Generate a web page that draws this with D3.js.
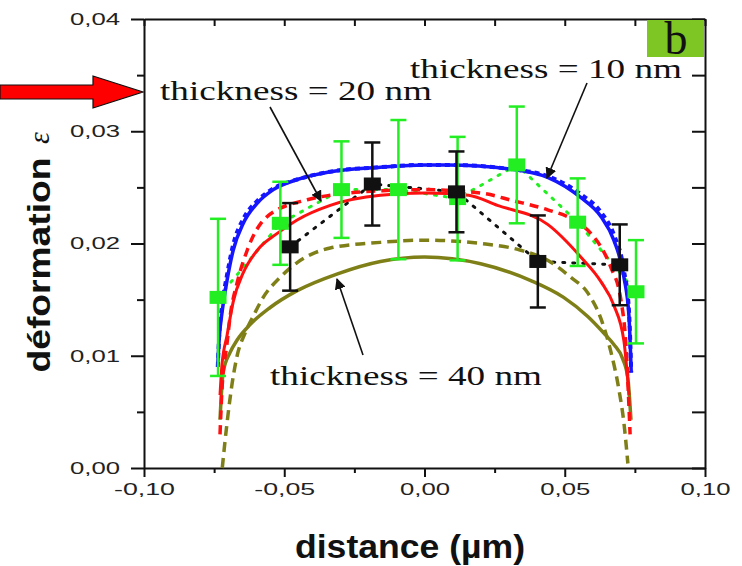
<!DOCTYPE html>
<html lang="fr">
<head>
<meta charset="UTF-8">
<script src="https://d3js.org/d3.v7.min.js"></script>
<title>deformation</title>
<style>
  body { margin: 0; background: #fff; }
  .ticklab { font-family: "Liberation Sans", Arial, sans-serif; font-size: 17px; fill: #222; }
  .note { font-family: "Liberation Serif", "Times New Roman", serif; font-size: 27px; fill: #111; }
</style>
</head>
<body>
<div id="chart"></div>
<script>
// theory curves
var blueX  = [-0.0737, -0.0732, -0.0721, -0.0704, -0.0682, -0.0646, -0.0596, -0.0539, -0.0454, -0.0336, -0.0157, 0, 0.0082, 0.0318, 0.0439, 0.0557, 0.0629, 0.0675, 0.0711, 0.0729, 0.0737];
var blueSolid  = [0.0093, 0.0115, 0.0140, 0.0167, 0.0194, 0.0218, 0.0236, 0.0248, 0.0257, 0.0264, 0.0268, 0.0270, 0.0270, 0.0266, 0.0259, 0.0241, 0.0224, 0.0203, 0.0170, 0.0135, 0.0085];
var blueDashed = [0.0090, 0.0118, 0.0146, 0.0172, 0.0199, 0.0222, 0.0238, 0.0249, 0.0257, 0.0264, 0.0268, 0.0270, 0.0270, 0.0266, 0.0260, 0.0244, 0.0228, 0.0208, 0.0176, 0.0140, 0.0085];

var redSolidX = [-0.0729, -0.0722, -0.0704, -0.0682, -0.0646, -0.0596, -0.0525, -0.0454, -0.0336, -0.0157, 0, 0.0157, 0.026, 0.0439, 0.0557, 0.0629, 0.0675, 0.0711, 0.0729];
var redSolid  = [0.0065, 0.0092, 0.0118, 0.0148, 0.0174, 0.0194, 0.0209, 0.0221, 0.0234, 0.0243, 0.0245, 0.0243, 0.0234, 0.0217, 0.0188, 0.0166, 0.0145, 0.0113, 0.0065];

var redDashX = [-0.0729, -0.0722, -0.0704, -0.0693, -0.0668, -0.0632, -0.0561, -0.0418, -0.0336, -0.015, 0, 0.02, 0.0318, 0.0439, 0.0532, 0.0593, 0.0629, 0.0664, 0.07, 0.0718, 0.0733];
var redDashed = [0.0030, 0.0070, 0.0111, 0.0135, 0.0165, 0.0194, 0.0224, 0.0239, 0.0243, 0.0247, 0.0248, 0.0245, 0.0238, 0.0230, 0.0221, 0.0209, 0.0197, 0.0179, 0.0150, 0.0110, 0.0030];

var oliveSolidX = [-0.0729, -0.0718, -0.0693, -0.0668, -0.0621, -0.055, -0.0454, -0.031, -0.0157, 0, 0.02, 0.0379, 0.0496, 0.0582, 0.064, 0.0675, 0.0707, 0.0725, 0.0736];
var oliveSolid  = [0.0043, 0.0085, 0.0103, 0.0114, 0.0128, 0.0143, 0.0158, 0.0173, 0.0184, 0.0188, 0.0182, 0.0167, 0.0152, 0.0135, 0.0120, 0.0110, 0.0097, 0.0080, 0.0043];

var oliveDashX = [-0.0721, -0.0704, -0.0686, -0.0668, -0.064, -0.0611, -0.0575, -0.0514, -0.0454, -0.0336, -0.0157, 0, 0.02, 0.0343, 0.0439, 0.0521, 0.0582, 0.0629, 0.0664, 0.0693, 0.0711, 0.0725];
var oliveDashed = [0.0000, 0.0040, 0.0075, 0.0100, 0.0120, 0.0135, 0.0152, 0.0170, 0.0183, 0.0196, 0.0201, 0.0203, 0.0200, 0.0194, 0.0185, 0.0170, 0.0156, 0.0133, 0.0104, 0.0070, 0.0040, 0.0004];

// measured points
var greenX   = [-0.0736, -0.0514, -0.0296, -0.0093, 0.0118, 0.0329, 0.0546, 0.0754];
var greenY   = [0.0152, 0.0218, 0.0248, 0.0248, 0.0240, 0.0270, 0.0219, 0.0157];
var greenErr = [0.0070, 0.0037, 0.0043, 0.0062, 0.0055, 0.0052, 0.0039, 0.0046];

var blackX   = [-0.0479, -0.0186, 0.0114, 0.0404, 0.0696];
var blackY   = [0.0197, 0.0253, 0.0246, 0.0184, 0.0181];
var blackErr = [0.0039, 0.0037, 0.0036, 0.0041, 0.0036];

var xTicks = [-0.10, -0.05, 0, 0.05, 0.10];
var xMinor = [-0.075, -0.025, 0.025, 0.075];
var yTicks = [0, 0.01, 0.02, 0.03, 0.04];
var yMinor = [0.005, 0.015, 0.025, 0.035];

var W = 742, H = 566;
var svg = d3.select("#chart").append("svg").attr("width", W).attr("height", H);

var x = d3.scaleLinear().domain([-0.1, 0.1]).range([144, 705]);
var y = d3.scaleLinear().domain([0, 0.04]).range([468, 19]);

function fmt(d) { return d3.format(".2f")(d).replace(".", ",").replace("\u2212", "-"); }

function styleAxis(g) {
  g.select(".domain").attr("stroke", "#111").attr("stroke-width", 2);
  g.selectAll(".tick line").attr("stroke", "#111").attr("stroke-width", 2);
}

// bottom axis
var gb = svg.append("g").attr("transform", "translate(0,468)")
  .call(d3.axisBottom(x).tickValues(xTicks).tickSize(9).tickSizeOuter(0).tickPadding(6).tickFormat(fmt));
styleAxis(gb);
gb.selectAll("text").attr("class", "ticklab").attr("font-size", null).attr("font-family", null)
  .attr("textLength", function(d) { return d < 0 ? 61 : 50; }).attr("lengthAdjust", "spacingAndGlyphs");
var gbm = svg.append("g").attr("transform", "translate(0,468)")
  .call(d3.axisBottom(x).tickValues(xMinor).tickSize(5).tickFormat(""));
styleAxis(gbm); gbm.select(".domain").remove();

// left axis
var gl = svg.append("g").attr("transform", "translate(144,0)")
  .call(d3.axisLeft(y).tickValues(yTicks).tickSize(13).tickSizeOuter(0).tickPadding(11).tickFormat(fmt));
styleAxis(gl);
gl.selectAll("text").attr("class", "ticklab").attr("font-size", null).attr("font-family", null)
  .attr("textLength", 50).attr("lengthAdjust", "spacingAndGlyphs");
var glm = svg.append("g").attr("transform", "translate(144,0)")
  .call(d3.axisLeft(y).tickValues(yMinor).tickSize(7).tickFormat(""));
styleAxis(glm); glm.select(".domain").remove();

// top axis (inward ticks)
var gt = svg.append("g").attr("transform", "translate(0,19)")
  .call(d3.axisTop(x).tickValues(xTicks.concat(xMinor)).tickSize(-7).tickSizeOuter(0).tickFormat(""));
styleAxis(gt);

// right axis (inward ticks)
var gr = svg.append("g").attr("transform", "translate(705,0)")
  .call(d3.axisRight(y).tickValues(yTicks.concat(yMinor)).tickSize(-13).tickSizeOuter(0).tickFormat(""));
styleAxis(gr);

// curves
function curve(xs, ys, color, width, dash) {
  var pts = xs.map(function(v, i) { return [v, ys[i]]; });
  var p = svg.append("path").datum(pts)
    .attr("fill", "none").attr("stroke", color).attr("stroke-width", width)
    .attr("d", d3.line().curve(d3.curveMonotoneX).x(function(d) { return x(d[0]); }).y(function(d) { return y(d[1]); }));
  if (dash) p.attr("stroke-dasharray", dash);
}

// dotted connections between measured points
function dotted(xs, ys, color) {
  var pts = xs.map(function(v, i) { return [v, ys[i]]; });
  svg.append("path").datum(pts)
    .attr("fill", "none").attr("stroke", color).attr("stroke-width", 3)
    .attr("stroke-dasharray", "2,8").attr("stroke-linecap", "round")
    .attr("d", d3.line().x(function(d) { return x(d[0]); }).y(function(d) { return y(d[1]); }));
}
dotted(greenX, greenY, "#22ee22");
dotted(blackX, blackY, "#111");

curve(oliveSolidX, oliveSolid, "#7f7f18", 3.5);
curve(oliveDashX, oliveDashed, "#7f7f18", 3.5, "10,6");
curve(redDashX, redDashed, "#ff1010", 3.5, "9,6");
curve(redSolidX, redSolid, "#ff1010", 3);
curve(blueX, blueDashed, "#1515ff", 4, "5,4");
curve(blueX, blueSolid, "#1515ff", 3.5);

// error bars + squares
function points(xs, ys, errs, color) {
  var g = svg.append("g");
  xs.forEach(function(v, i) {
    var cx = x(v), y0 = y(ys[i] - errs[i]), y1 = y(ys[i] + errs[i]);
    g.append("line").attr("x1", cx).attr("x2", cx).attr("y1", y0).attr("y2", y1)
      .attr("stroke", color).attr("stroke-width", 2.5);
    [y0, y1].forEach(function(yy) {
      g.append("line").attr("x1", cx - 8).attr("x2", cx + 8).attr("y1", yy).attr("y2", yy)
        .attr("stroke", color).attr("stroke-width", 2.5);
    });
    g.append("rect").attr("x", cx - 8.5).attr("y", y(ys[i]) - 6.5)
      .attr("width", 17).attr("height", 13).attr("fill", color);
  });
}
points(greenX, greenY, greenErr, "#22ee22");
points(blackX, blackY, blackErr, "#111");

// annotations
var defs = svg.append("defs");
defs.append("marker").attr("id", "ah").attr("viewBox", "0 0 10 10")
  .attr("refX", 9).attr("refY", 5).attr("markerWidth", 7).attr("markerHeight", 7)
  .attr("orient", "auto").append("path").attr("d", "M0,0L10,5L0,10z").attr("fill", "#111");

function arrow(x1, y1, x2, y2) {
  svg.append("line").attr("x1", x1).attr("y1", y1).attr("x2", x2).attr("y2", y2)
    .attr("stroke", "#111").attr("stroke-width", 1.6).attr("marker-end", "url(#ah)");
}
arrow(270, 107, 321, 201);
arrow(587, 83, 547, 178);
arrow(363, 355, 337, 279);

function note(tx, ty, s) {
  svg.append("text").attr("class", "note").attr("x", tx).attr("y", ty)
    .attr("textLength", 272).attr("lengthAdjust", "spacingAndGlyphs").text(s);
}
note(160, 100, "thickness = 20 nm");
note(410, 78, "thickness = 10 nm");
note(270, 385, "thickness = 40 nm");

// "b" panel label
svg.append("rect").attr("x", 647).attr("y", 20).attr("width", 57).attr("height", 37).attr("fill", "#7dc623");
svg.append("text").attr("x", 676).attr("y", 54).attr("text-anchor", "middle")
  .attr("font-family", "Liberation Serif, serif").attr("font-size", 46).attr("fill", "#111").text("b");

// red arrow pointing to the y axis
svg.append("path")
  .attr("d", "M0,85 L93,85 L93,76 L143,92 L93,108 L93,99 L0,99 Z")
  .attr("fill", "#ff0000").attr("stroke", "#111").attr("stroke-width", 1.2);

// axis titles
svg.append("text").attr("x", 410).attr("y", 558).attr("text-anchor", "middle")
  .attr("font-family", "Liberation Sans, Arial, sans-serif").attr("font-weight", "bold")
  .attr("font-size", 33).attr("fill", "#111")
  .attr("textLength", 230).attr("lengthAdjust", "spacingAndGlyphs").text("distance (\u00b5m)");

svg.append("text").attr("transform", "translate(50,265) rotate(-90)").attr("text-anchor", "middle")
  .attr("font-family", "Liberation Sans, Arial, sans-serif").attr("font-weight", "bold")
  .attr("font-size", 32).attr("fill", "#111")
  .attr("textLength", 215).attr("lengthAdjust", "spacingAndGlyphs").text("d\u00e9formation");
svg.append("text").attr("transform", "translate(49,138) rotate(-90)").attr("text-anchor", "middle")
  .attr("font-family", "Liberation Serif, serif").attr("font-style", "italic")
  .attr("font-size", 30).attr("fill", "#111").text("\u03b5");
</script>
</body>
</html>
